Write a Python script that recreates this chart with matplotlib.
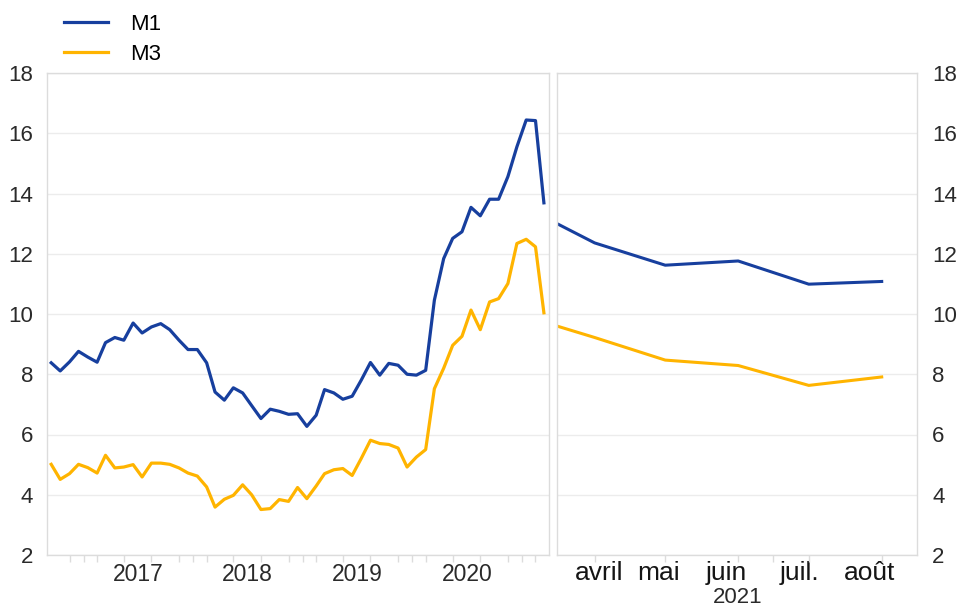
import numpy as np
import pandas as pd
import matplotlib
matplotlib.use("Agg")
import matplotlib.pyplot as plt
import matplotlib.transforms as mtransforms

plt.rcParams['font.family'] = ['Liberation Sans', 'DejaVu Sans']

# series mensuelles, sept. 2016 - mars 2021
dates_g = pd.date_range("2016-09-01", "2021-03-01", freq="MS") + pd.Timedelta(days=14)
m1_g = [8.38, 8.11, 8.41, 8.76, 8.57, 8.40, 9.05, 9.22, 9.13, 9.70, 9.37, 9.57,
        9.68, 9.48, 9.13, 8.82, 8.82, 8.38, 7.41, 7.14, 7.55, 7.38, 6.96, 6.53,
        6.84, 6.77, 6.67, 6.69, 6.27, 6.64, 7.49, 7.38, 7.17, 7.27, 7.80, 8.39,
        7.97, 8.36, 8.30, 8.00, 7.97, 8.13, 10.46, 11.84, 12.51, 12.73, 13.54, 13.26,
        13.81, 13.81, 14.56, 15.55, 16.44, 16.42, 13.69]
m3_g = [5.01, 4.51, 4.70, 5.01, 4.90, 4.72, 5.31, 4.89, 4.92, 5.00, 4.59, 5.05,
        5.05, 5.01, 4.89, 4.72, 4.62, 4.26, 3.59, 3.85, 3.98, 4.33, 4.00, 3.51,
        3.54, 3.84, 3.78, 4.24, 3.87, 4.29, 4.70, 4.83, 4.87, 4.64, 5.20, 5.81,
        5.70, 5.67, 5.55, 4.92, 5.25, 5.50, 7.52, 8.20, 8.96, 9.26, 10.13, 9.48,
        10.40, 10.51, 11.01, 12.34, 12.48, 12.23, 10.04]

# 2021
dates_d = pd.to_datetime(["2021-03-16", "2021-04-01", "2021-05-01",
                          "2021-06-01", "2021-07-01", "2021-08-01"])
m1_d = [13.0, 12.36, 11.62, 11.76, 10.99, 11.08]
m3_d = [9.60, 9.22, 8.47, 8.29, 7.63, 7.91]

annees = ["2017", "2018", "2019", "2020"]
mois = ["avril", "mai", "juin", "juil.", "août"]
# position des libelles de mois (comme sur l'original)
pos_mois = pd.to_datetime(["2021-04-03", "2021-04-28", "2021-05-27",
                           "2021-06-27", "2021-07-27"])
yticks = list(range(2, 19, 2))

bleu = "#173f9e"
jaune = "#ffb400"
gris = "#dcdcdc"
texte = "#2a2a2a"

fig = plt.figure(figsize=(9.58, 6.07), dpi=100)
ax1 = fig.add_axes([47/958, 52/607, 502/958, 482/607])
ax2 = fig.add_axes([557/958, 52/607, 360/958, 482/607])

for ax in (ax1, ax2):
    ax.set_ylim(2, 18)
    ax.set_yticks(yticks)
    ax.grid(axis="y", color="#ececec", linewidth=1)
    ax.set_axisbelow(True)
    for s in ax.spines.values():
        s.set_color(gris)
        s.set_linewidth(1)
    ax.tick_params(axis="y", length=0, labelsize=16, labelcolor=texte, pad=10)
    ax.tick_params(axis="x", which="major", length=0, labelcolor=texte, pad=6)
    ax.tick_params(axis="x", which="minor", length=5, color=gris, width=1)

# panneau gauche
l1, = ax1.plot(dates_g, m1_g, color=bleu, linewidth=2.3, label="M1")
l3, = ax1.plot(dates_g, m3_g, color=jaune, linewidth=2.3, label="M3")
ax1.set_xlim(pd.Timestamp("2016-09-01"), pd.Timestamp("2021-04-01"))
ax1.set_xticks([pd.Timestamp(a + "-07-01") for a in annees])
ax1.set_xticklabels(annees, fontsize=16.5)
mineurs = [pd.Timestamp("2016-11-15")]
for a in range(2017, 2022):
    mineurs += [pd.Timestamp(f"{a}-01-01"), pd.Timestamp(f"{a}-02-15"),
                pd.Timestamp(f"{a}-05-15"), pd.Timestamp(f"{a}-08-15"),
                pd.Timestamp(f"{a}-11-15")]
mineurs = [d for d in mineurs if d < pd.Timestamp("2021-04-01")]
ax1.set_xticks(mineurs, minor=True)

# panneau droit
ax2.plot(dates_d, m1_d, color=bleu, linewidth=2.2)
ax2.plot(dates_d, m3_d, color=jaune, linewidth=2.2)
ax2.set_xlim(pd.Timestamp("2021-03-16"), pd.Timestamp("2021-08-16"))
ax2.set_xticks(pos_mois)
ax2.set_xticklabels(mois, fontsize=19, color="#151515")
ax2.tick_params(axis="x", which="major", pad=4)
ax2.set_xticks([pd.Timestamp("2021-04-01"), pd.Timestamp("2021-05-01"),
                pd.Timestamp("2021-06-01"), pd.Timestamp("2021-06-16"),
                pd.Timestamp("2021-07-01"), pd.Timestamp("2021-08-01")], minor=True)
ax2.yaxis.tick_right()
ax2.tick_params(axis="y", length=0, pad=11)
trans = mtransforms.blended_transform_factory(ax2.transData, ax2.transAxes)
ax2.text(pd.Timestamp("2021-06-01"), -0.089, "2021", transform=trans,
         ha="center", va="center", fontsize=16, color=texte)

fig.legend(handles=[l1, l3], loc="upper left", bbox_to_anchor=(48/958, 1.003),
           frameon=False, fontsize=16, handlelength=2.0, handletextpad=1.0,
           labelspacing=0.4, borderaxespad=0.3)

fig.savefig("out.png", dpi=100)
